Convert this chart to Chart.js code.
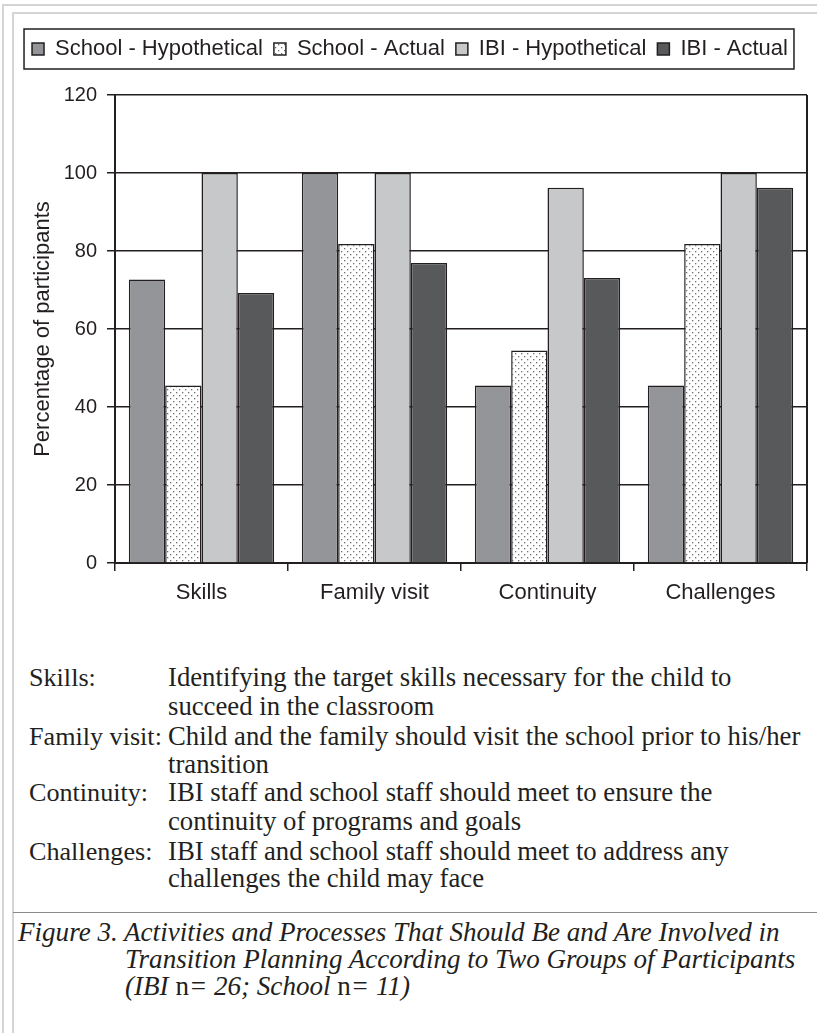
<!DOCTYPE html>
<html>
<head>
<meta charset="utf-8">
<script src="https://cdn.jsdelivr.net/npm/chart.js@4"></script>
<style>
  body { margin: 0; background: #fff; width: 817px; height: 1033px; position: relative; overflow: hidden; }
  .frame { position: absolute; border: 2px solid #d4d4d4; }
  #chartWrap { position: absolute; left: 13px; top: 13px; width: 799px; height: 600px; }
  .txt { position: absolute; font-family: "Liberation Serif", serif; color: #231f20; white-space: nowrap; line-height: 29px; font-size: 23px; }
  .cap { font-style: italic; }
  .up { font-style: normal; }
  #sep { position: absolute; left: 13px; top: 912px; width: 804px; height: 0; border-top: 1.5px solid #8a8a8a; }
</style>
</head>
<body>
<div class="frame" style="left:2px; top:4px; width:830px; height:1040px;"></div>
<div class="frame" style="left:12px; top:12px; width:820px; height:1030px;"></div>
<div id="chartWrap"><canvas id="chart"></canvas></div>
<div id="defs"></div>
<div id="sep"></div>
<div id="caption"></div>
<script>
// Chart data
const categories = ["Skills", "Family visit", "Continuity", "Challenges"];
const schoolHypothetical = [72.7, 100, 45.5, 45.5];
const schoolActual = [45.5, 81.8, 54.5, 81.8];
const ibiHypothetical = [100, 100, 96.2, 100];
const ibiActual = [69.2, 76.9, 73.1, 96.2];
const yTicks = [0, 20, 40, 60, 80, 100, 120];

const definitions = [
    ["Skills:", "Identifying the target skills necessary for the child to"],
    ["", "succeed in the classroom"],
    ["Family visit:", "Child and the family should visit the school prior to his/her"],
    ["", "transition"],
    ["Continuity:", "IBI staff and school staff should meet to ensure the"],
    ["", "continuity of programs and goals"],
    ["Challenges:", "IBI staff and school staff should meet to address any"],
    ["", "challenges the child may face"]
];

const ink = "#231f20";

// dotted fill for "School - Actual"
function dotPattern() {
    const c = document.createElement("canvas");
    c.width = 6; c.height = 6;
    const g = c.getContext("2d");
    g.fillStyle = "#ffffff";
    g.fillRect(0, 0, 6, 6);
    g.fillStyle = "#6d6e70";
    g.fillRect(1, 1, 1.3, 1.3);
    g.fillRect(4, 4, 1.3, 1.3);
    return g.createPattern(c, "repeat");
}
const dots = dotPattern();

// frame around legend + right edge of plot
const framePlugin = {
    id: "frames",
    beforeInit(chart) {
        const fit = chart.legend.fit;
        chart.legend.fit = function () {
            fit.bind(chart.legend)();
            this.height = 68;
        };
    },
    afterDraw(chart) {
        const ctx = chart.ctx;
        const a = chart.chartArea;
        ctx.save();
        ctx.strokeStyle = ink;
        ctx.lineWidth = 2;
        ctx.beginPath();
        ctx.moveTo(a.right, a.top);
        ctx.lineTo(a.right, a.bottom);
        ctx.stroke();
        const hb = chart.legend.legendHitBoxes;
        if (hb && hb.length) {
            const left = hb[0].left - 8;
            const last = hb[hb.length - 1];
            const right = last.left + last.width + 6;
            const cy = hb[0].top + hb[0].height / 2;
            ctx.lineWidth = 1.5;
            ctx.strokeRect(left, cy - 20, right - left, 40);
        }
        ctx.restore();
    }
};

const ctx = document.getElementById("chart").getContext("2d");
new Chart(ctx, {
    type: "bar",
    data: {
        labels: categories,
        datasets: [
            { label: "School - Hypothetical", data: schoolHypothetical, backgroundColor: "#939598" },
            { label: "School - Actual", data: schoolActual, backgroundColor: dots },
            { label: "IBI - Hypothetical", data: ibiHypothetical, backgroundColor: "#c7c8ca" },
            { label: "IBI - Actual", data: ibiActual, backgroundColor: "#58595b" }
        ].map(d => Object.assign(d, {
            borderColor: ink,
            borderWidth: 1.5,
            categoryPercentage: 0.84,
            barPercentage: 1
        }))
    },
    options: {
        responsive: true,
        maintainAspectRatio: false,
        animation: false,
        layout: { padding: { top: 14, right: 5, left: 0, bottom: 0 } },
        plugins: {
            legend: {
                position: "top",
                labels: {
                    font: { family: "Liberation Sans", size: 22 },
                    color: ink,
                    boxWidth: 12,
                    boxHeight: 12,
                    padding: 11
                }
            },
            tooltip: { enabled: false }
        },
        scales: {
            x: {
                grid: { drawOnChartArea: false, tickLength: 8, color: ink, lineWidth: 1.5 },
                border: { color: ink, width: 2 },
                ticks: { font: { family: "Liberation Sans", size: 22 }, color: ink, padding: 9 },
                afterFit(scale) { scale.height = 50; }
            },
            y: {
                min: 0,
                max: 120,
                afterBuildTicks(scale) { scale.ticks = yTicks.map(v => ({ value: v })); },
                grid: { color: ink, lineWidth: 1.5, tickLength: 8 },
                border: { color: ink, width: 2 },
                ticks: { font: { family: "Liberation Sans", size: 20 }, color: ink, padding: 10 },
                title: {
                    display: true,
                    text: "Percentage of participants",
                    font: { family: "Liberation Sans", size: 22 },
                    color: ink,
                    padding: { top: 17, bottom: 0 }
                },
                afterFit(scale) { scale.width = 102; }
            }
        }
    },
    plugins: [framePlugin]
});

// definitions and caption as text
const defs = document.getElementById("defs");
const defY = [678, 707, 737, 765, 793, 822, 852, 879];
const defLong = [];
definitions.forEach((row, i) => {
    if (row[0]) {
        const l = document.createElement("div");
        l.className = "txt lab";
        l.textContent = row[0];
        l.style.left = "29px";
        l.style.top = (defY[i] - 15) + "px";
        if (i === 2) l.id = "labRef";
        defs.appendChild(l);
    }
    const t = document.createElement("div");
    t.className = "txt def";
    t.textContent = row[1];
    t.style.left = "168px";
    t.style.top = (defY[i] - 15) + "px";
    if (row[0]) defLong.push(t);
    defs.appendChild(t);
});

const caption = document.getElementById("caption");
const capLines = [
    [18, 933, "Figure 3. Activities and Processes That Should Be and Are Involved in"],
    [125, 960, "Transition Planning According to Two Groups of Participants"],
    [125, 987, '(IBI <span class="up">n</span>= 26; School <span class="up">n</span>= 11)']
];
capLines.forEach((c, i) => {
    const d = document.createElement("div");
    d.className = "txt cap";
    d.innerHTML = c[2];
    d.style.left = c[0] + "px";
    d.style.top = (c[1] - 15) + "px";
    if (i === 0) d.id = "capRef";
    caption.appendChild(d);
});

// size the serif text so line widths match the figure
function fitGroup(refs, target, cls) {
    const w = refs.reduce((s, e) => s + e.offsetWidth, 0);
    const size = 23 * target / w;
    document.querySelectorAll(cls).forEach(e => e.style.fontSize = size.toFixed(2) + "px");
}
fitGroup(defLong, 562 + 642 + 541 + 557, ".def");
fitGroup([document.getElementById("labRef")], 133, ".lab");
fitGroup([document.getElementById("capRef")], 762, ".cap");
</script>
</body>
</html>
